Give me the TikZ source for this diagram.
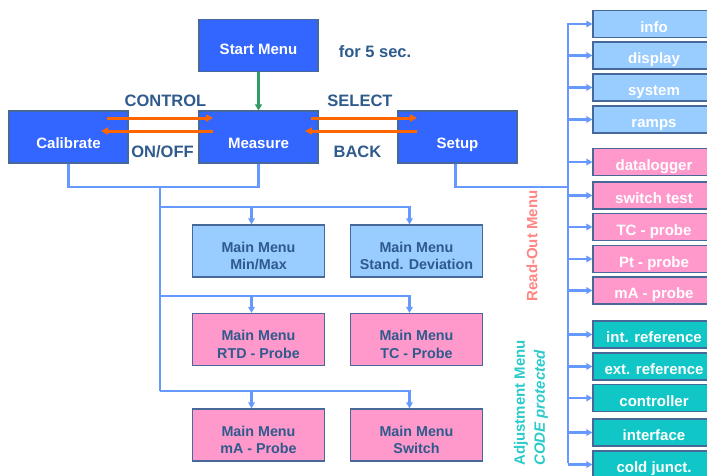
\documentclass[tikz,border=0pt]{standalone}
\usepackage{fontspec}
\setmainfont{Liberation Sans}
\usetikzlibrary{arrows.meta}
\definecolor{dkblue}{HTML}{3366FF}
\definecolor{ltblue}{HTML}{99CCFF}
\definecolor{pinkc}{HTML}{FF99CC}
\definecolor{tealc}{HTML}{11C6C6}
\definecolor{bordc}{HTML}{46699A}
\definecolor{txtc}{HTML}{2E5A8C}
\definecolor{connc}{HTML}{6699FF}
\definecolor{orangec}{HTML}{FF6600}
\definecolor{greenc}{HTML}{339966}
\definecolor{readc}{HTML}{FF8585}
\definecolor{adjc}{HTML}{2CCACA}
\newcommand{\mystrut}{\rule{0pt}{20pt}}
\tikzset{
  boxbase/.style={draw=bordc, line width=1.2pt, inner sep=0pt, align=center},
  darkbox/.style={boxbase, fill=dkblue, text=white, minimum width=119pt, minimum height=52pt,
    font=\bfseries\fontsize{15}{17}\selectfont, text height=23pt, text depth=0pt},
  midbox/.style={boxbase, text=txtc, minimum width=132pt, minimum height=52pt,
    font=\bfseries\fontsize{14.3}{17.3}\selectfont},
  rbox/.style={boxbase, text=white, minimum width=122pt, minimum height=27pt,
    font=\bfseries\fontsize{15}{17}\selectfont, text height=16pt, text depth=0pt},
  lbl/.style={text=txtc, inner sep=0pt, font=\bfseries\fontsize{16.5}{18}\selectfont},
  conn/.style={draw=connc, line width=2.2pt},
  connarrow/.style={conn, -{Triangle[length=6pt,width=6.5pt]}},
  orangearrow/.style={draw=orangec, line width=3pt, -{Triangle[length=7pt,width=7pt]}},
}
\begin{document}
\begin{tikzpicture}[x=1pt,y=-1pt]
\useasboundingbox (0,0) rectangle (707,475);

% main boxes
\node[darkbox, text height=18pt] (start) at (258.5,45.5) {Start Menu};
\node[darkbox] (cal) at (68.5,137) {Calibrate};
\node[darkbox] (meas) at (258.5,137) {Measure};
\node[darkbox] (setup) at (457.5,137) {Setup};

\node[lbl] (for5) at (375,52) {for 5 sec.};
\node[lbl] (ctrl) at (165.5,101) {CONTROL};
\node[lbl] (onoff) at (162.5,152) {ON/OFF};
\node[lbl] (sel) at (360,101) {SELECT};
\node[lbl] (back) at (357.5,152) {BACK};

% middle boxes
\node[midbox, fill=ltblue] (mm) at (258.5,251) {\mystrut Main Menu\\Min/Max};
\node[midbox, fill=ltblue] (sd) at (416.5,251) {\mystrut Main Menu\\Stand. Deviation};
\node[midbox, fill=pinkc] (rtd) at (258.5,339.5) {\mystrut Main Menu\\RTD - Probe};
\node[midbox, fill=pinkc] (tc) at (416.5,339.5) {\mystrut Main Menu\\TC - Probe};
\node[midbox, fill=pinkc] (ma) at (258.5,435) {\mystrut Main Menu\\mA - Probe};
\node[midbox, fill=pinkc] (sw) at (416.5,435) {\mystrut Main Menu\\Switch};

% right boxes
\node[rbox, fill=ltblue] (info) at (654,24) {info};
\node[rbox, fill=ltblue] (disp) at (654,55.5) {display};
\node[rbox, fill=ltblue] (sys) at (654,87.5) {system};
\node[rbox, fill=ltblue] (ramps) at (654,119.5) {ramps};
\node[rbox, fill=pinkc] (dlog) at (654,162) {datalogger};
\node[rbox, fill=pinkc] (swt) at (654,195.5) {switch test};
\node[rbox, fill=pinkc] (tcp) at (654,227) {TC - probe};
\node[rbox, fill=pinkc] (ptp) at (654,259) {Pt - probe};
\node[rbox, fill=pinkc] (map) at (654,290.5) {mA - probe};
\node[rbox, fill=tealc] (intr) at (654,334.5) {int. reference};
\node[rbox, fill=tealc] (extr) at (654,366.5) {ext. reference};
\node[rbox, fill=tealc] (ctl) at (654,398) {controller};
\node[rbox, fill=tealc] (intf) at (654,432.5) {interface};
\node[rbox, fill=tealc] (cold) at (654,464.5) {cold junct.};

% rotated labels
\node[rotate=90, text=readc, inner sep=0pt, font=\bfseries\fontsize{15}{17}\selectfont] (readout) at (532,246) {Read-Out Menu};
\node[rotate=90, anchor=west, text=adjc, inner sep=0pt, font=\bfseries\fontsize{15}{17}\selectfont] (adj) at (521,466) {Adjustment Menu};
\node[rotate=90, anchor=west, text=adjc, inner sep=0pt, font=\bfseries\itshape\fontsize{15}{17}\selectfont] (code) at (541,466) {CODE protected};

% green arrow
\draw[draw=greenc, line width=2.6pt, -{Triangle[length=6pt,width=7pt]}] (start.south) -- (meas.north);

% left tree
\coordinate (j1) at (160,187);
\coordinate (j2) at (160,391);
\coordinate (b1) at (160,207);
\coordinate (b2) at (160,296);
\draw[conn] (cal.south) -- (cal.south |- j1) -- (meas.south |- j1) -- (meas.south);
\draw[conn] (j1) -- (j2);
\draw[connarrow] (b1) -| ([xshift=-7pt]sd.north);
\draw[connarrow] ([xshift=-7pt]mm.north |- b1) -- ([xshift=-7pt]mm.north);
\draw[connarrow] (b2) -| ([xshift=-7pt]tc.north);
\draw[connarrow] ([xshift=-7pt]rtd.north |- b2) -- ([xshift=-7pt]rtd.north);
\draw[connarrow] (j2) -| ([xshift=-7pt]sw.north);
\draw[connarrow] ([xshift=-7pt]ma.north |- j2) -- ([xshift=-7pt]ma.north);

% right bus
\coordinate (rtop) at (568,23);
\coordinate (rbot) at (568,463);
\coordinate (sj) at (568,187);
\draw[conn] (rtop) -- (rbot);
\draw[conn] ([xshift=-2pt]setup.south) |- (sj);
\foreach \n in {info,disp,sys,ramps,dlog,swt,tcp,ptp,map,intr,extr,ctl,intf,cold}{
  \draw[connarrow] (rtop |- \n.west) -- (\n.west);
}

% orange arrows
\coordinate (o1) at (107,118);
\coordinate (o2) at (213,118);
\coordinate (o3) at (213,131);
\coordinate (o4) at (101,131);
\coordinate (o5) at (311,118);
\coordinate (o6) at (417,118);
\coordinate (o7) at (417,131);
\coordinate (o8) at (305,131);
\draw[orangearrow] (o1) -- (o2);
\draw[orangearrow] (o3) -- (o4);
\draw[orangearrow] (o5) -- (o6);
\draw[orangearrow] (o7) -- (o8);
\end{tikzpicture}
\end{document}
